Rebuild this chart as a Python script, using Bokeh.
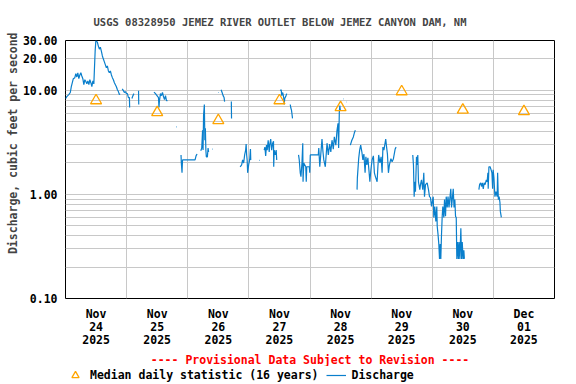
from bokeh.plotting import figure
from bokeh.layouts import column
from bokeh.models import (FixedTicker, Title, Legend, LegendItem, Range1d,
                          CustomJSTickFormatter)
from bokeh.embed import file_html
from bokeh.resources import INLINE

nan = float("nan")

# Discharge (cfs), 15-minute provisional record; time in hours since 2025-11-24 00:00.
seg_a = [(0.0, 8.31), (0.51, 8.68), (1.30, 9.07), (1.89, 9.5), (2.28, 10.8), (2.68, 11.8), (3.07, 12.9),
         (3.66, 13.2), (4.05, 14.4), (4.45, 13.4), (4.84, 14.7), (5.23, 12.9), (5.63, 14.0), (6.02, 14.7),
         (6.41, 13.7), (6.81, 12.9), (7.20, 11.3), (7.59, 12.6), (7.99, 12.1), (8.38, 11.5), (8.77, 12.3),
         (9.17, 11.3), (9.56, 12.6), (9.95, 11.8), (10.35, 10.8), (10.74, 12.3), (11.13, 11.5), (11.33, 15.3),
         (11.64, 23.7), (11.92, 29.9), (12.51, 28.9), (12.90, 26.5), (13.30, 24.8), (13.69, 25.9), (14.08, 23.7),
         (14.48, 21.3), (14.87, 19.9), (15.26, 18.7), (15.66, 17.5), (16.05, 16.4), (16.44, 17.1), (16.84, 15.3),
         (17.23, 14.7), (17.62, 15.3), (18.02, 14.0), (18.41, 13.2), (18.80, 12.6), (19.20, 11.8), (19.59, 11.3),
         (19.98, 10.8), (20.38, 10.1), (20.77, 9.7), (21.16, 9.07), (21.36, 9.27)]
seg_b = [(22.27, 10.3), (22.74, 9.9), (23.13, 9.5), (23.52, 9.7), (23.92, 9.27), (24.31, 9.27), (24.70, 8.49),
         (25.10, 8.49), (25.18, 6.82)]
seg_c = [(26.08, 8.31), (26.48, 8.87), (26.87, 9.27)]
seg_d = [(28.68, 9.9), (28.76, 7.29)]
seg_e = [(34.74, 9.6), (35.33, 9.27), (35.92, 8.87), (36.51, 8.49), (36.70, 6.82), (36.90, 7.95), (37.29, 9.27),
         (37.69, 8.87), (38.08, 9.5), (38.47, 8.68), (38.87, 8.13), (39.26, 8.87), (39.65, 7.95), (40.05, 7.95)]
seg_f = [(43.51, 4.45), (43.71, 4.45)]
seg_g = [(45.36, 2.39), (45.48, 2.00), (45.75, 1.61), (45.95, 2.14), (48.11, 2.14), (50.87, 2.14), (51.26, 2.34),
         (51.65, 2.44)]
seg_h = [(53.11, 2.62), (53.50, 2.78), (53.82, 4.12), (54.01, 2.66), (54.21, 5.73), (54.52, 7.29), (54.72, 3.31),
         (54.92, 4.31), (55.11, 2.66), (55.31, 2.29), (55.70, 2.29), (55.98, 2.78), (56.18, 2.55)]
seg_i = [(57.67, 2.72), (57.85, 2.72)]
seg_j = [(60.03, 9.5), (60.20, 9.5)]
seg_k = [(61.09, 10.1), (61.49, 9.5), (61.88, 8.87), (62.27, 8.49), (62.47, 7.78)]
seg_l = [(65.11, 7.78), (65.19, 5.36)]
seg_m = [(68.57, 1.84), (69.16, 1.92), (69.55, 2.14), (69.95, 2.00), (70.34, 2.39), (70.73, 2.66), (70.93, 3.04),
         (71.13, 2.39), (71.32, 2.14), (71.52, 1.61), (71.91, 1.92), (72.31, 2.14), (72.62, 2.72), (72.74, 2.14)]
seg_n = [(76.16, 2.12), (76.35, 2.12)]
seg_o = [(78.01, 2.66), (78.29, 2.84), (78.60, 2.34), (78.91, 2.97), (79.19, 2.66), (79.58, 3.31), (79.98, 2.55),
         (80.17, 2.97), (80.57, 3.39), (80.96, 2.66), (81.35, 3.10), (81.67, 3.24), (81.75, 1.84), (81.94, 2.66),
         (82.34, 2.39), (82.73, 2.66), (82.93, 2.14)]
seg_p = [(84.31, 9.9), (84.70, 10.1), (84.89, 8.87), (85.29, 9.5), (85.68, 8.49), (85.88, 7.29), (86.07, 8.31),
         (86.47, 8.68), (86.86, 9.27)]
seg_q = [(88.24, 7.29), (88.43, 6.82), (88.75, 6.39), (89.14, 5.36)]
seg_r = [(91.50, 2.39), (91.78, 2.14), (92.17, 1.61), (92.45, 1.48), (92.84, 2.0), (93.16, 3.10), (93.27, 1.32),
         (93.55, 2.0), (94.34, 1.84), (94.53, 1.32), (94.73, 1.84), (95.71, 1.84), (95.91, 1.61), (96.11, 2.39),
         (96.70, 2.39), (99.25, 2.39), (99.45, 2.78), (99.84, 1.84), (100.71, 3.39), (101.10, 2.55), (101.42, 2.14),
         (102.01, 1.84), (102.68, 3.10), (103.19, 2.39), (103.70, 3.04), (104.17, 2.55), (104.64, 3.31),
         (105.15, 2.72), (105.55, 3.56), (106.14, 2.97), (106.61, 4.12), (107.00, 4.81), (107.24, 2.78),
         (107.51, 6.15), (107.71, 7.13), (107.91, 6.4)]
seg_s = [(109.21, 8.25), (109.35, 8.25)]
seg_t = [(110.27, 7.7), (110.41, 7.7)]
seg_u = [(111.84, 2.97), (112.43, 3.31), (113.02, 3.56), (113.42, 3.9), (113.81, 4.12)]
seg_v = [(114.48, 1.11), (114.60, 1.44), (115.11, 2.20), (115.50, 2.66), (115.90, 2.97), (116.37, 2.55),
         (116.76, 2.14), (117.16, 2.44), (117.63, 1.61), (117.94, 2.29), (118.33, 1.92), (118.73, 2.24),
         (119.12, 1.72), (119.51, 1.32), (119.91, 1.72), (120.38, 2.14), (120.89, 2.34), (121.28, 1.61),
         (121.68, 1.48), (122.35, 1.32), (122.66, 1.84), (122.97, 2.39), (123.45, 2.0), (123.92, 2.29),
         (124.31, 1.61), (124.63, 2.84), (125.02, 2.66), (125.73, 3.39), (126.12, 2.78), (126.40, 2.44),
         (126.79, 1.61), (127.18, 1.92), (127.77, 2.20), (128.24, 2.05), (128.76, 2.20), (129.43, 2.72),
         (129.82, 2.84)]
seg_w = [(136.35, 2.39), (136.62, 1.92), (136.90, 0.95), (137.13, 1.32), (137.41, 1.06), (137.81, 2.29),
         (138.08, 1.92), (138.32, 2.39), (138.59, 1.32), (139.11, 1.11), (139.38, 1.24), (139.77, 1.38),
         (140.28, 1.11), (140.68, 1.61), (140.95, 0.95), (141.35, 1.24), (142.01, 1.29), (142.52, 1.11),
         (142.92, 0.95), (143.31, 0.93), (143.70, 0.765), (144.37, 0.95), (144.61, 0.60), (145.00, 0.765),
         (145.40, 0.55), (145.79, 0.765), (145.95, 0.494), (146.26, 0.415), (146.58, 0.333), (146.85, 0.24),
         (147.13, 0.333), (147.36, 0.24), (147.64, 0.415), (147.91, 0.615), (148.15, 0.765), (148.54, 0.60),
         (148.82, 0.89), (149.21, 0.615), (149.48, 0.95), (149.88, 0.75), (150.19, 0.95), (150.58, 0.75),
         (150.98, 0.95), (151.29, 1.13), (151.57, 0.75), (151.96, 0.95), (152.24, 1.13), (152.55, 0.75),
         (152.87, 0.89), (153.14, 0.615), (153.42, 0.60), (153.65, 0.24), (153.93, 0.348), (154.25, 0.24),
         (154.52, 0.348), (154.84, 0.24), (155.23, 0.473), (155.51, 0.24), (155.78, 0.348), (156.10, 0.24),
         (156.41, 0.29), (156.61, 0.24)]
seg_x = [(162.31, 1.11), (162.59, 1.24), (162.98, 1.29), (163.37, 1.19), (163.65, 1.29), (164.04, 1.13),
         (164.36, 1.29), (164.75, 1.24), (165.23, 1.38), (165.54, 1.32), (165.85, 1.61), (165.97, 1.13),
         (166.25, 1.84), (166.72, 1.84), (167.11, 1.72), (167.43, 1.61), (167.70, 1.13), (167.90, 1.72),
         (168.22, 1.44), (168.61, 0.95), (169.00, 1.06), (169.48, 0.95), (169.67, 1.61), (169.95, 0.89),
         (170.26, 0.95), (170.58, 0.835), (170.74, 0.686), (171.13, 0.60)]

# Median daily statistic (16 years), plotted at noon of each day
median_hours = [12, 36, 60, 84, 108, 132, 156, 180]
median_cfs = [7.95, 6.11, 5.13, 7.95, 6.82, 9.7, 6.46, 6.25]

# Axis ticks / labels
day_label_hours = [12, 36, 60, 84, 108, 132, 156, 180]
day_labels = ["Nov\n24\n2025", "Nov\n25\n2025", "Nov\n26\n2025", "Nov\n27\n2025",
              "Nov\n28\n2025", "Nov\n29\n2025", "Nov\n30\n2025", "Dec\n01\n2025"]
midnight_hours = [24, 48, 72, 96, 120, 144, 168]
y_ticks = [0.1, 1, 10, 20, 30]
y_grid = [0.2, 0.3, 0.4, 0.5, 0.6, 0.7, 0.8, 0.9, 1, 2, 3, 4, 5, 6, 7, 8, 9, 10, 20]

segments = [seg_a, seg_b, seg_c, seg_d, seg_e, seg_f, seg_g, seg_h, seg_i, seg_j, seg_k, seg_l, seg_m,
            seg_n, seg_o, seg_p, seg_q, seg_r, seg_s, seg_t, seg_u, seg_v, seg_w, seg_x]
q_hours, q_cfs = [], []
for seg in segments:
    for h, v in seg:
        q_hours.append(h)
        q_cfs.append(v)
    q_hours.append(nan)
    q_cfs.append(nan)

FONT = "DejaVu Sans Mono"
FS = "11.5px"
LINE_COLOR = "#0a7fcc"
MED_COLOR = "#ffa500"

p = figure(width=576, height=366, y_axis_type="log",
           x_range=Range1d(0, 192), y_range=Range1d(0.1, 30),
           output_backend="svg", toolbar_location=None,
           min_border_left=65, min_border_right=22, min_border_top=39, min_border_bottom=66)
p.outline_line_color = "black"
p.outline_line_width = 1
p.outline_line_alpha = 1

p.title.text = "USGS 08328950 JEMEZ RIVER OUTLET BELOW JEMEZ CANYON DAM, NM"
p.title.align = "left"
p.title.offset = 28
p.title.text_font = FONT
p.title.text_font_size = "10.5px"
p.title.text_font_style = "bold"
p.title.standoff = 26

p.xgrid.ticker = FixedTicker(ticks=midnight_hours)
p.ygrid.ticker = FixedTicker(ticks=y_grid)
p.grid.grid_line_color = "#c8c8c8"
p.grid.grid_line_width = 1

for ax in (p.xaxis, p.yaxis):
    ax.axis_line_color = None
    ax.major_tick_line_color = None
    ax.minor_tick_line_color = None
    ax.major_tick_out = 0
    ax.major_tick_in = 0
    ax.minor_tick_out = 0
    ax.minor_tick_in = 0
    ax.major_label_text_font = FONT
    ax.major_label_text_font_size = FS
    ax.major_label_text_font_style = "bold"
    ax.major_label_text_color = "black"

p.xaxis.ticker = FixedTicker(ticks=day_label_hours)
p.xaxis.major_label_overrides = dict(zip(day_label_hours, day_labels))
p.xaxis.major_label_text_line_height = 0.95
p.xaxis.major_label_standoff = 8
p.yaxis.ticker = FixedTicker(ticks=y_ticks, minor_ticks=[])
p.yaxis.formatter = CustomJSTickFormatter(code="return tick.toFixed(2)")
p.yaxis.major_label_standoff = 8

p.add_layout(Title(text="Discharge, cubic feet per second", align="right", offset=-8,
                   text_font=FONT, text_font_size=FS, text_font_style="bold", standoff=0), "left")

r_line = p.line(q_hours, q_cfs, line_color=LINE_COLOR, line_width=1.2)
r_med = p.scatter(median_hours, median_cfs, marker="triangle", size=11,
                  fill_color=None, line_color=MED_COLOR, line_width=1.3)

p.add_layout(Title(text="---- Provisional Data Subject to Revision ----", align="center",
                   text_font=FONT, text_font_size=FS, text_font_style="bold",
                   text_color="#ff0000", standoff=0), "below")

# Legend strip under the chart (same series, drawn outside this strip's ranges; only the key shows)
lg = figure(width=576, height=18, x_range=Range1d(-2, -1), y_range=Range1d(-2, -1),
            output_backend="svg", toolbar_location=None, title=None,
            x_axis_location=None, y_axis_location=None,
            min_border_left=53, min_border_right=0, min_border_top=0, min_border_bottom=0)
lg.outline_line_color = None
lg.grid.visible = False
k_med = lg.scatter(median_hours, median_cfs, marker="triangle", size=11, fill_color=None,
                   line_color=MED_COLOR, line_width=1.3)
k_line = lg.line(q_hours, q_cfs, line_color=LINE_COLOR, line_width=1.2)
legend = Legend(items=[LegendItem(label="Median daily statistic (16 years)", renderers=[k_med]),
                       LegendItem(label="Discharge", renderers=[k_line])],
                orientation="horizontal", location="top_left",
                label_text_font=FONT, label_text_font_size=FS, label_text_font_style="bold",
                label_text_color="black",
                glyph_width=20, glyph_height=18, label_standoff=5, spacing=8,
                padding=0, margin=0, border_line_color=None, background_fill_alpha=0)
lg.add_layout(legend)

layout = column(p, lg, spacing=0)
open("out.html", "w").write(file_html(layout, INLINE))
